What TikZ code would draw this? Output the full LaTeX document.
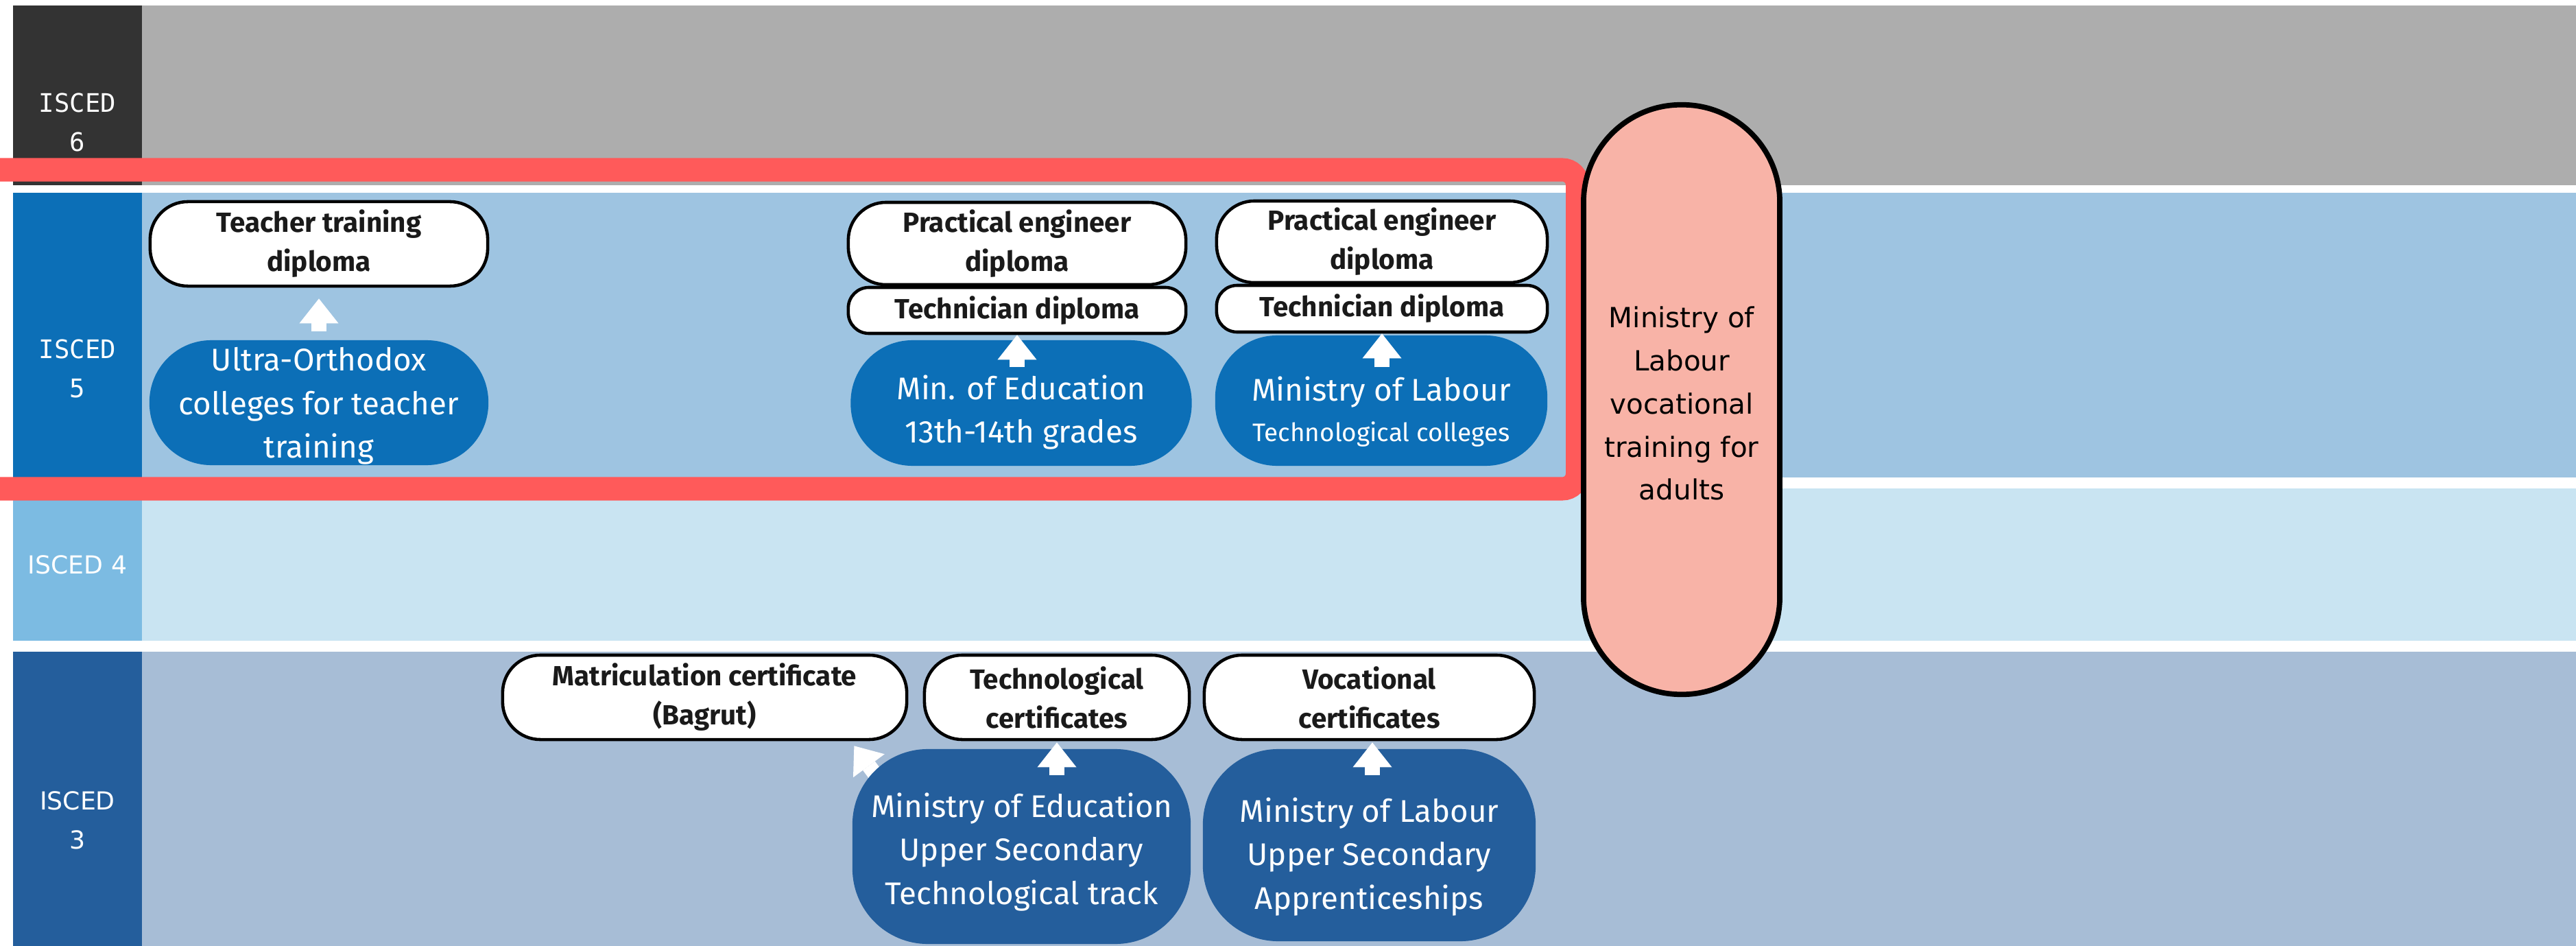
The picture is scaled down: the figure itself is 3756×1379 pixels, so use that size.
\documentclass[tikz,border=0pt]{standalone}
\usepackage{fontspec}
\setmainfont{Fira Sans}
\newfontfamily\dvs{DejaVu Sans}
\newfontfamily\dvm{DejaVu Sans Mono}
\usetikzlibrary{arrows.meta}
\definecolor{dark6}{HTML}{333333}
\definecolor{gray6}{HTML}{ADADAD}
\definecolor{blue5}{HTML}{0C6FB7}
\definecolor{light5}{HTML}{9EC4E1}
\definecolor{blue4}{HTML}{7CBBE2}
\definecolor{light4}{HTML}{C9E4F2}
\definecolor{blue3}{HTML}{245E9C}
\definecolor{light3}{HTML}{A7BDD6}
\definecolor{redline}{HTML}{FF5A5A}
\definecolor{pinkcap}{HTML}{F8B3A7}
\definecolor{ink}{HTML}{1A1A1A}
\pgfdeclarelayer{bg}\pgfdeclarelayer{mid}\pgfsetlayers{bg,mid,main}
\begin{document}
\begin{tikzpicture}[x=0.01cm,y=-0.01cm,
  wbox/.style={draw=black, fill=white, line width=1.3pt, inner sep=0pt, text=ink,
    font=\bfseries\fontsize{11.5}{16.2}\selectfont, align=center},
  bbox/.style={inner sep=0pt, draw=none},
  btext/.style={text=white, align=center, inner sep=0pt, font=\fontsize{13}{18}\selectfont},
  labtext/.style={text=white, align=center, inner sep=0pt},
  bigarrow/.style={draw=white, line width=0.22cm, -{Triangle[width=0.57cm,length=0.36cm,line width=0pt]}},
  capsule/.style={draw=black, fill=pinkcap, line width=2.2pt, inner sep=0pt},
  redframe/.style={draw=redline, line width=0.34cm, rounded corners=0.22cm}
]
\useasboundingbox (0,0) rectangle (3756,1379);
\clip (0,0) rectangle (3756,1379);
\begin{pgfonlayer}{bg}
\fill[white] (0,0) rectangle (3756,1379);
\fill[dark6] (19,8) rectangle (207,270);
\fill[gray6] (207,8) rectangle (3756,270);
\fill[blue5] (19,281) rectangle (207,696);
\fill[light5] (207,281) rectangle (3756,696);
\fill[blue4] (19,712) rectangle (207,934);
\fill[light4] (207,712) rectangle (3756,934);
\fill[blue3] (19,950) rectangle (207,1379);
\fill[light3] (207,950) rectangle (3756,1379);
\end{pgfonlayer}

% ISCED labels
\node[labtext, font=\dvm\fontsize{10.6}{16.2}\selectfont] (t6) at (113,178.5) {ISCED\\6};
\node[labtext, font=\dvm\fontsize{10.6}{16.2}\selectfont] (t5) at (113,537) {ISCED\\5};
\node[labtext, font=\dvs\fontsize{10.3}{16.2}\selectfont] (t4) at (113,823) {ISCED 4};
\node[labtext, font=\dvs\fontsize{10.3}{16.2}\selectfont] (t3) at (113,1196) {ISCED\\3};

% ISCED 5 nodes
\node[wbox, minimum width=4.92cm, minimum height=1.23cm, rounded corners=0.55cm] (teach) at (465,355.5) {Teacher training\\diploma};
\node[bbox, fill=blue5, minimum width=4.94cm, minimum height=1.82cm, rounded corners=0.9cm] (ultra) at (465,587) {};
\node[btext] (ultra-t) at (465,592) {Ultra-Orthodox\\colleges for teacher\\training};

\node[wbox, minimum width=4.92cm, minimum height=1.20cm, rounded corners=0.55cm] (pe1) at (1483,355) {Practical engineer\\diploma};
\node[wbox, minimum width=4.92cm, minimum height=0.67cm, rounded corners=0.3cm] (td1) at (1483,452.5) {Technician diploma};
\node[bbox, fill=blue5, minimum width=4.97cm, minimum height=1.83cm, rounded corners=0.9cm] (med) at (1489,587.5) {};
\node[btext] (med-t) at (1489,601) {Min. of Education\\13th-14th grades};

\node[wbox, minimum width=4.82cm, minimum height=1.19cm, rounded corners=0.55cm] (pe2) at (2015,352.5) {Practical engineer\\diploma};
\node[wbox, minimum width=4.82cm, minimum height=0.68cm, rounded corners=0.3cm] (td2) at (2015,450) {Technician diploma};
\node[bbox, fill=blue5, minimum width=4.84cm, minimum height=1.90cm, rounded corners=0.9cm] (mlab) at (2014,584) {};
\node[btext] (mlab-t) at (2014,600) {Ministry of Labour\\[-1pt]{\fontsize{10.5}{14}\selectfont Technological colleges}};

% ISCED 3 nodes
\node[wbox, minimum width=5.89cm, minimum height=1.23cm, rounded corners=0.55cm] (matric) at (1027.5,1016.5) {Matriculation certificate\\(Bagrut)};
\node[wbox, minimum width=3.86cm, minimum height=1.23cm, rounded corners=0.55cm] (techc) at (1541,1016.5) {Technological\\certificates};
\node[wbox, minimum width=4.81cm, minimum height=1.23cm, rounded corners=0.55cm] (vocc) at (1996.5,1016.5) {Vocational\\certificates};
\node[bbox, fill=blue3, minimum width=4.93cm, minimum height=2.84cm, rounded corners=1.1cm] (meup) at (1489.5,1234) {};
\node[btext] (meup-t) at (1489.5,1242) {Ministry of Education\\Upper Secondary\\Technological track};
\node[bbox, fill=blue3, minimum width=4.85cm, minimum height=2.80cm, rounded corners=1.1cm] (mlup) at (1996.5,1232) {};
\node[btext] (mlup-t) at (1996.5,1249) {Ministry of Labour\\Upper Secondary\\Apprenticeships};

% diagonal arrow, partly hidden behind the blue node
\begin{pgfonlayer}{mid}
\draw[bigarrow] ([xshift=0.44cm,yshift=-0.51cm]meup.north west) -- ([xshift=-0.79cm,yshift=-0.07cm]matric.south east);
\end{pgfonlayer}

% vertical arrows
\draw[bigarrow] ([yshift=0.12cm]ultra.north) -- ([yshift=-0.16cm]teach.south);
\draw[bigarrow] ([yshift=-0.40cm]td1.south |- med.north) -- (td1.south);
\draw[bigarrow] ([yshift=-0.47cm]td2.south |- mlab.north) -- (td2.south);
\draw[bigarrow] ([yshift=-0.39cm]techc.south |- meup.north) -- ([yshift=-0.02cm]techc.south);
\draw[bigarrow] ([yshift=-0.39cm,xshift=0.045cm]vocc.south |- mlup.north) -- ([yshift=-0.02cm,xshift=0.045cm]vocc.south);

% red frame
\draw[redframe] (-100,247.5) -- (2300,247.5) -- (2300,712.5) -- (-100,712.5);

% capsule
\node[capsule, minimum width=2.86cm, minimum height=8.59cm, rounded corners=1.42cm] (cap) at (2452,582.5) {};
\node[text=black, align=center, inner sep=0pt, font=\dvs\fontsize{11.5}{17.9}\selectfont] (cap-t) at (2452,588) {Ministry of\\Labour\\vocational\\training for\\adults};
\end{tikzpicture}
\end{document}
